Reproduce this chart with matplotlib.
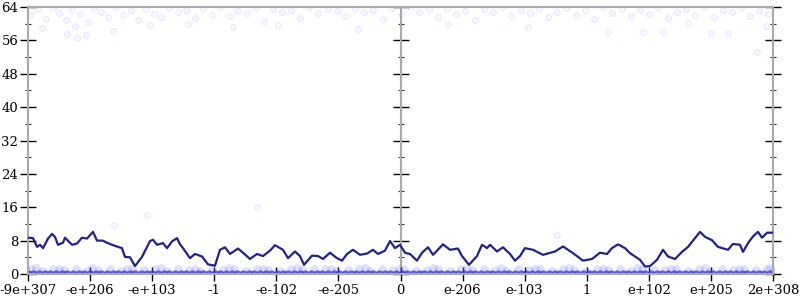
import matplotlib
matplotlib.use("Agg")
import numpy as np
from matplotlib import pyplot as plt
from matplotlib.ticker import MultipleLocator

# x is the sample index (0..745), y the value
line_x = [0, 5, 9, 12, 15, 20, 24, 27, 30, 35, 37, 44, 49, 54, 59, 65, 69, 75, 77, 84,
          90, 94, 97, 102, 107, 114, 122, 125, 129, 135, 139, 144, 149, 152, 155, 162, 167, 174, 180, 187,
          192, 197, 202, 210, 215, 222, 229, 235, 242, 247, 255, 260, 267, 272, 276, 284, 290, 295, 302, 309,
          314, 319, 325, 332, 339, 345, 350, 357, 362, 367, 372, 377, 382, 389, 394, 400, 405, 415, 422, 430,
          434, 441, 449, 454, 459, 462, 469, 475, 482, 487, 492, 497, 505, 515, 527, 535, 545, 555, 564, 572,
          579, 584, 590, 597, 602, 607, 612, 617, 622, 629, 635, 640, 647, 654, 660, 665, 672, 677, 684, 690,
          700, 705, 712, 715, 720, 725, 730, 734, 739, 745]
line_y = [8.7, 8.6, 6.5, 7.0, 6.2, 8.5, 9.6, 8.9, 7.0, 7.5, 8.7, 7.0, 7.3, 8.7, 8.5, 10.1, 8.0, 8.0, 7.7, 7.0,
          6.5, 6.2, 4.1, 4.0, 1.9, 4.1, 7.9, 8.2, 7.0, 7.4, 6.2, 7.8, 8.6, 7.1, 6.2, 3.8, 4.8, 4.2, 2.3, 2.0,
          5.8, 6.4, 4.8, 6.1, 5.1, 3.6, 4.8, 4.3, 5.6, 6.9, 5.8, 3.8, 5.4, 4.3, 2.2, 4.4, 4.3, 3.6, 5.1, 3.8,
          3.2, 4.8, 5.8, 4.6, 4.9, 5.8, 4.8, 5.6, 7.9, 6.2, 7.0, 5.1, 4.8, 3.2, 5.1, 6.4, 4.6, 7.1, 5.8, 6.1,
          4.3, 2.2, 4.3, 7.0, 6.2, 7.0, 5.4, 6.4, 4.8, 3.2, 4.3, 6.2, 5.8, 4.6, 5.4, 6.6, 5.0, 3.2, 3.6, 5.1,
          4.8, 6.2, 7.1, 6.2, 5.0, 4.2, 3.4, 1.8, 1.9, 3.4, 5.8, 4.2, 3.6, 5.3, 6.5, 8.0, 10.1, 8.9, 8.1, 6.5,
          5.8, 7.2, 7.0, 5.3, 7.4, 9.0, 10.1, 8.7, 9.9, 9.9]

# faint samples near the top
top_x = [2, 10, 18, 25, 31, 38, 44, 52, 60, 66, 73, 80, 88, 95, 103, 110, 118, 126, 133, 141,
         150, 158, 167, 175, 184, 192, 201, 210, 219, 228, 236, 245, 254, 263, 272, 281, 290, 300, 309, 318,
         327, 336, 345, 355, 364, 373, 382, 391, 401, 410, 419, 428, 437, 447, 456, 465, 474, 483, 493, 502,
         511, 520, 529, 538, 548, 557, 566, 575, 584, 594, 603, 612, 621, 630, 640, 649, 658, 667, 676, 686,
         695, 704, 713, 722, 731, 740, 14, 47, 85, 122, 160, 205, 250, 330, 420, 500, 580, 660, 700, 738]
top_y = [62.0, 63.5, 61.2, 63.8, 62.6, 61.0, 63.2, 62.3, 60.4, 63.7, 62.8, 61.5, 63.9, 62.1, 63.3, 60.9, 63.6, 62.4, 61.7, 63.8,
         62.9, 63.4, 61.3, 63.7, 62.2, 63.9, 61.8, 63.1, 62.6, 63.8, 60.7, 63.5, 62.9, 63.2, 61.4, 63.9, 62.5, 63.6, 63.0, 61.9,
         63.8, 62.7, 63.4, 61.2, 63.7, 62.3, 63.9, 62.8, 63.5, 61.6, 63.8, 62.4, 63.1, 60.8, 63.6, 62.7, 63.9, 61.9, 63.3, 62.5,
         63.7, 61.5, 62.9, 63.8, 62.2, 63.4, 61.1, 63.9, 62.6, 63.5, 61.8, 63.2, 62.4, 63.8, 61.3, 62.8, 63.6, 62.1, 63.9, 61.7,
         63.4, 62.9, 63.7, 61.9, 63.1, 62.3, 58.9, 59.4, 58.3, 59.8, 60.0, 59.1, 59.6, 58.7, 59.9, 59.3, 58.0, 60.1, 57.8, 59.5]

# stray samples in the middle
mid_x = [39, 49, 58, 86, 119, 229, 529, 615, 635, 683, 729]
mid_y = [57.5, 56.6, 57.3, 11.7, 14.1, 16.0, 9.3, 58.0, 58.0, 57.8, 53.2]

# samples sitting on zero
zero_x = [0, 5, 11, 17, 22, 28, 34, 39, 45, 51, 56, 62, 68, 73, 79, 85, 90, 96, 102, 107,
          113, 119, 124, 130, 136, 141, 147, 153, 158, 164, 170, 175, 181, 187, 192, 198, 204, 209, 215, 221,
          226, 232, 238, 243, 249, 255, 260, 266, 272, 277, 283, 289, 294, 300, 306, 311, 317, 323, 328, 334,
          340, 345, 351, 357, 362, 368, 374, 379, 385, 391, 396, 402, 408, 413, 419, 425, 430, 436, 442, 447,
          453, 459, 464, 470, 476, 481, 487, 493, 498, 504, 510, 515, 521, 527, 532, 538, 544, 549, 555, 561,
          566, 572, 578, 583, 589, 595, 600, 606, 612, 617, 623, 629, 634, 640, 646, 651, 657, 663, 668, 674,
          680, 685, 691, 697, 702, 708, 714, 719, 725, 731, 736, 742, 745]

# samples just above zero
low_x = [3, 14, 25, 36, 48, 59, 70, 82, 93, 104, 116, 127, 138, 150, 161, 172, 184, 195, 206, 218,
         229, 240, 252, 263, 274, 286, 297, 308, 320, 331, 342, 354, 365, 376, 388, 399, 410, 422, 433, 444,
         456, 467, 478, 490, 501, 512, 524, 535, 546, 558, 569, 580, 592, 603, 614, 626, 637, 648, 660, 671,
         682, 694, 705, 716, 728, 739, 8, 31, 64, 99, 133, 167, 201, 235, 269, 303, 337, 371, 405, 439,
         473, 507, 541, 575, 609, 643, 677, 711, 742]
low_y = [1.1, 0.8, 1.3, 0.9, 1.2, 0.7, 1.0, 1.3, 0.8, 1.1, 0.9, 1.2, 0.7, 1.3, 1.0, 0.8, 1.2, 0.9, 1.1, 0.7,
         1.3, 1.0, 0.8, 1.2, 0.9, 1.1, 1.3, 0.7, 1.0, 1.2, 0.8, 1.1, 0.9, 1.3, 0.7, 1.0, 1.2, 0.8, 1.1, 0.9,
         1.3, 1.0, 0.7, 1.2, 0.9, 1.1, 0.8, 1.3, 1.0, 0.7, 1.2, 0.9, 1.1, 0.8, 1.3, 1.0, 0.9, 1.2, 0.7, 1.1,
         0.8, 1.3, 1.0, 1.2, 0.9, 1.1, 1.4, 1.2, 1.4, 1.3, 1.4, 1.2, 1.4, 1.3, 1.4, 1.2, 1.4, 1.3, 1.4, 1.2,
         1.4, 1.3, 1.4, 1.2, 1.4, 1.3, 1.4, 1.2, 1.4]

x_labels = ['-9e+307', '-e+206', '-e+103', '-1', '-e-102', '-e-205', '0',
            'e-206', 'e-103', '1', 'e+102', 'e+205', '2e+308']
y_ticks = [0, 8, 16, 24, 32, 40, 48, 56, 64]

plt.rcParams['font.family'] = ['DejaVu Serif']
plt.rcParams['font.size'] = 9.5

fig = plt.figure(figsize=(8, 3), dpi=100)
ax = fig.add_axes([28 / 800, 26 / 300, 745 / 800, 267 / 300])
ax.set_xlim(0, 745)
ax.set_ylim(0, 64)

faint_face = (0.45, 0.45, 1.0, 0.05)
faint_edge = (0.45, 0.45, 1.0, 0.12)
ax.scatter(top_x, top_y, s=18, facecolor=faint_face, edgecolor=faint_edge, linewidths=0.8, zorder=2)
ax.scatter(mid_x, mid_y, s=18, facecolor=faint_face, edgecolor=faint_edge, linewidths=0.8, zorder=2)
ax.scatter(low_x, low_y, s=40, color=(0.45, 0.45, 1.0, 0.22), linewidths=0, zorder=2)
ax.scatter(zero_x, [0] * len(zero_x), s=36, color='#3535d8', alpha=0.75, linewidths=0, zorder=2)

ax.plot(line_x, line_y, color='#22228a', lw=1.6, zorder=4)

for s in ax.spines.values():
    s.set_color('#aaaaaa')
    s.set_linewidth(1.5)

ax.set_yticks(y_ticks)
ax.yaxis.set_minor_locator(MultipleLocator(4))
ax.tick_params(axis='y', which='major', direction='inout', length=11, width=1, color='black',
               left=True, right=True, labelleft=True, labelright=False, pad=1.5)
ax.tick_params(axis='y', which='minor', direction='inout', length=5, width=0.8, color='#333333',
               left=True, right=True)

ax.set_xticks(np.linspace(0, 745, 13))
ax.set_xticklabels(x_labels)
ax.tick_params(axis='x', direction='inout', length=10, width=1, color='black', pad=2)

# middle axis at zero
mid = ax.secondary_yaxis(0.5)
mid.set_yticks(y_ticks)
mid.yaxis.set_minor_locator(MultipleLocator(4))
mid.tick_params(which='major', direction='inout', length=11, width=1, color='black',
                labelleft=False, labelright=False)
mid.tick_params(which='minor', direction='inout', length=5, width=0.8, color='#333333')
mid.set_yticklabels([])
for s in mid.spines.values():
    s.set_color('#aaaaaa')
    s.set_linewidth(1.5)

fig.savefig('out.png', dpi=100)
